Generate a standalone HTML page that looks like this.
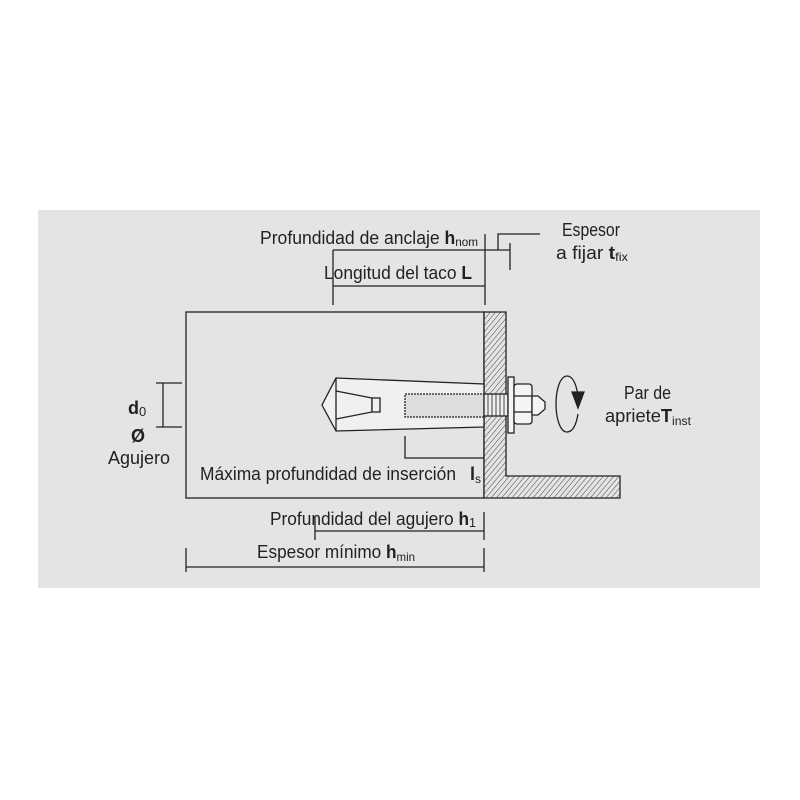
<!DOCTYPE html>
<html><head><meta charset="utf-8"><style>
body{margin:0;background:#fff;}
svg{display:block;font-family:"Liberation Sans",sans-serif;}
text{font-size:18px;fill:#222;}
</style></head><body>
<svg width="800" height="800" viewBox="0 0 800 800" xmlns="http://www.w3.org/2000/svg">
<defs>
<pattern id="h" width="4" height="4" patternUnits="userSpaceOnUse" patternTransform="rotate(40)">
<rect width="4" height="4" fill="#e4e4e4"/><line x1="0" y1="0" x2="0" y2="4" stroke="#333" stroke-width="0.9"/>
</pattern>
</defs>
<rect x="38" y="210" width="722" height="378" fill="#e4e4e4"/>
<g stroke="#222" stroke-width="1.3" fill="none">
<rect x="186" y="312" width="298" height="186"/>
<path d="M484 312H506V476H620V498H484Z" fill="url(#h)"/>
<path d="M336 378L484 384V427L336 431L322 405Z" fill="#f0f0f0"/>
<path d="M336 378V431M336 391L372 398V412L336 419" />
<rect x="372" y="398" width="8" height="14" fill="#f0f0f0"/>
<rect x="405" y="394" width="79" height="23" stroke-dasharray="2 1" fill="#ddd"/>
<rect x="484" y="394" width="24" height="22" fill="#eee"/>
<path d="M488 394V416M492 394V416M496 394V416M500 394V416M504 394V416" stroke-width="0.8"/>
<rect x="508" y="377" width="6" height="56" fill="#f4f4f4"/>
<rect x="514" y="384" width="18" height="40" rx="3" fill="#f4f4f4"/>
<path d="M514 396H532M514 412H532"/>
<path d="M532 396H538L545 402V409L538 415H532Z" fill="#f4f4f4"/>
<path d="M578 396C576 382 572 376 567 376C560 376 556 390 556 404C556 418 560 432 567 432C572 432 576 426 578 414"/>
<path d="M572 392L584 392L578 408Z" fill="#222"/>
<path d="M333 250H510M510 243V270M498 250V234H540M485 234V305M333 286H485M333 250V305"/>
<path d="M156 383H182M156 427H182M163 383V427"/>
<path d="M405 436V458H484"/>
<path d="M315 531H484M315 516V540M484 512V540"/>
<path d="M186 567H484M186 548V572M484 548V572"/>
</g>
<text x="260" y="244" textLength="218" lengthAdjust="spacingAndGlyphs">Profundidad de anclaje <tspan font-weight="bold">h</tspan><tspan font-size="12" dy="2">nom</tspan></text>
<text x="324" y="279" textLength="148" lengthAdjust="spacingAndGlyphs">Longitud del taco <tspan font-weight="bold">L</tspan></text>
<text x="562" y="236" textLength="58" lengthAdjust="spacingAndGlyphs">Espesor</text>
<text x="556" y="259" textLength="72" lengthAdjust="spacingAndGlyphs">a fijar <tspan font-weight="bold">t</tspan><tspan font-size="12" dy="2">fix</tspan></text>
<text x="200" y="480" textLength="256" lengthAdjust="spacingAndGlyphs">Máxima profundidad de inserción</text>
<text x="470" y="480" font-weight="bold">l<tspan font-size="12" font-weight="normal" dy="3">s</tspan></text>
<text x="270" y="525" textLength="206" lengthAdjust="spacingAndGlyphs">Profundidad del agujero <tspan font-weight="bold">h</tspan><tspan font-size="13" dy="2">1</tspan></text>
<text x="257" y="558" textLength="158" lengthAdjust="spacingAndGlyphs">Espesor mínimo <tspan font-weight="bold">h</tspan><tspan font-size="12" dy="3">min</tspan></text>
<text x="128" y="414" font-weight="bold">d<tspan font-size="13" font-weight="normal" dy="2">0</tspan></text>
<text x="131" y="442" font-weight="bold">Ø</text>
<text x="108" y="464" textLength="62" lengthAdjust="spacingAndGlyphs">Agujero</text>
<text x="624" y="399" textLength="47" lengthAdjust="spacingAndGlyphs">Par de</text>
<text x="605" y="422" textLength="86" lengthAdjust="spacingAndGlyphs">apriete<tspan font-weight="bold">T</tspan><tspan font-size="12" dy="3">inst</tspan></text>
</svg>
</body></html>
